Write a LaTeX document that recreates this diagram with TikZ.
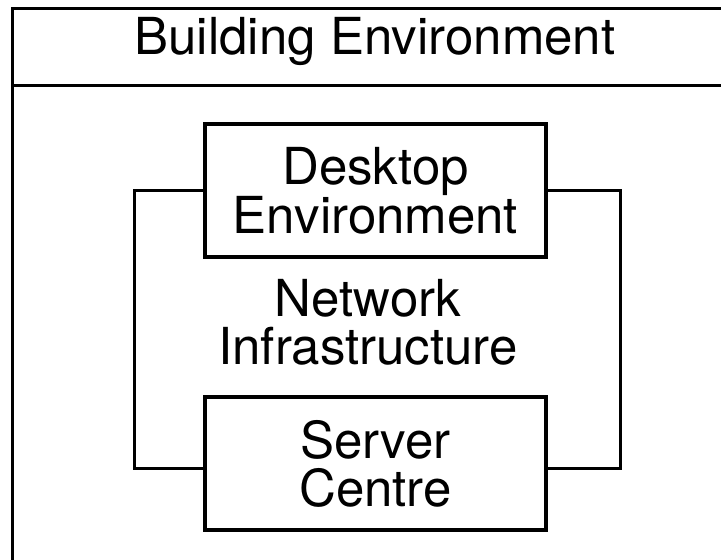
\documentclass[tikz,border=0pt]{standalone}
\usepackage{fontspec}
\setmainfont{TeX Gyre Heros}
\usepackage{tikz}
\usetikzlibrary{positioning}

\begin{document}
\begin{tikzpicture}[x=1pt, y=-1pt,
    bigtext/.style={font=\fontsize{51}{48}\selectfont, align=center, inner sep=0pt},
    envbox/.style={bigtext, draw=black, line width=4.5pt, fill=white,
        minimum width=341, minimum height=133},
    thinline/.style={line width=3pt, black}]
                  \useasboundingbox (0,0) rectangle (721,560);
                  \clip (0,0) rectangle (721,560);
                  \draw[thinline] (12,580) -- (12,8) -- (740,8);
                  \draw[thinline] (12,85) -- (740,85);
                  \node[bigtext] (building) at (375,41) {Building Environment};
                  \coordinate (nettl) at (134,190);
                  \coordinate (nettr) at (620,190);
                  \coordinate (netbl) at (134,468);
                  \coordinate (netbr) at (620,468);
                  \node[envbox] (desktop) at (375.5,190.5) {Desktop\\Environment};
                  \node[envbox] (server) at (375.5,463.5) {Server\\Centre};
                  \node[bigtext] (network) at (368,322) {Network\\Infrastructure};
                  \draw[thinline] (desktop.west |- nettl) -- (nettl) -- (netbl) 
                  -- (server.west |- netbl);
                  \draw[thinline] (desktop.east |- nettr) -- (nettr) -- (netbr) 
                  -- (server.east |- netbr);
              \end{tikzpicture}
\end{document}
